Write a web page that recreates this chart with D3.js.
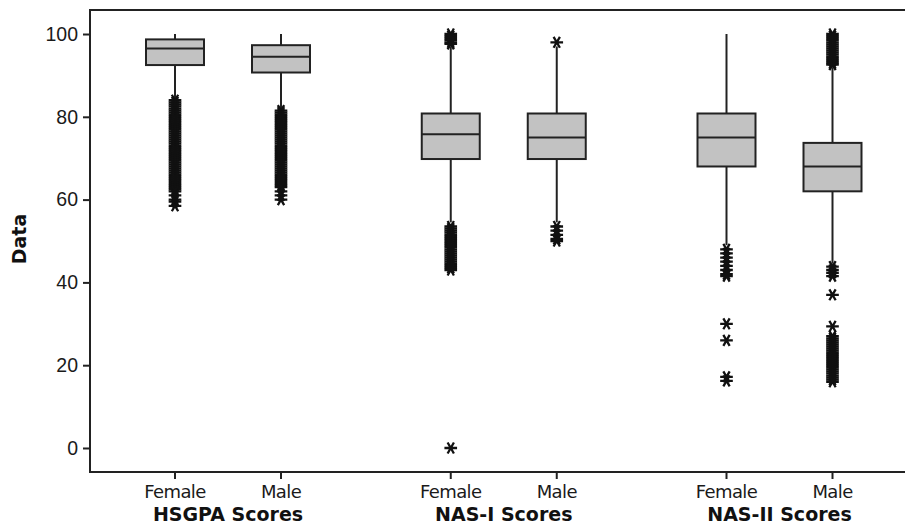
<!DOCTYPE html>
<html lang="en">
<head>
<meta charset="utf-8" />
<title>Box plots</title>
<script src="https://d3js.org/d3.v7.min.js"></script>
<style>
    body { margin: 0; background: #fff; }
    svg { display: block; font-family: "DejaVu Sans", Verdana, sans-serif; }
    .tick text { font-size: 19.5px; fill: #1a1a1a; }
    .tick line { stroke: #222; stroke-width: 2; }
</style>
</head>
<body>
<svg width="905" height="525"></svg>
<script>
    // groups and sexes, box order is group by group, Female then Male
    var groups = ["HSGPA Scores", "NAS-I Scores", "NAS-II Scores"];
    var sexes = ["Female", "Male"];
    var yTicks = [0, 20, 40, 60, 80, 100];

    // box statistics
    var whiskerLow  = [84.5, 82,   54.5, 54.5, 49,   44.5];
    var q1          = [92.5, 90.7, 69.8, 69.8, 68,   62];
    var median      = [96.5, 94.5, 75.8, 75,   75,   68];
    var q3          = [98.7, 97.3, 80.8, 80.8, 80.8, 73.7];
    var whiskerHigh = [100,  100,  97,   97,   100,  92];

    var outliers = [
        [84, 83.5, 83, 82.5, 82, 81.5, 81, 80.5, 80, 79.5, 79, 78.5, 78, 77.5, 77, 76.5, 76, 75.5, 75, 74.5, 74,
         73.5, 73, 72.5, 72, 71.5, 71, 70.5, 70, 69.5, 69, 68.5, 68, 67.5, 67, 66.5, 66, 65.5, 65, 64.5, 64,
         63.5, 63, 62.5, 62, 61, 60, 59.5, 58.5],
        [81.5, 81, 80.5, 80, 79.5, 79, 78.5, 78, 77.5, 77, 76.5, 76, 75.5, 75, 74.5, 74, 73.5, 73, 72.5, 72,
         71.5, 71, 70.5, 70, 69.5, 69, 68.5, 68, 67.5, 67, 66.5, 66, 65.5, 65, 64.5, 64, 63.5, 63, 62, 61, 60],
        [100, 99.5, 99, 98.5, 98, 97.6,
         53.5, 53, 52.5, 52, 51.5, 51, 50.5, 50, 49.5, 49, 48.5, 48, 47.5, 47, 46.5, 46, 45.5, 45, 44.5, 44,
         43.5, 43, 0],
        [98, 53.5, 52.5, 51.5, 50.5, 50],
        [48, 47, 46, 45, 44, 43, 42, 41.5, 30, 26, 17.2, 16.2],
        [100, 99.5, 99, 98.5, 98, 97.5, 97, 96.5, 96, 95.5, 95, 94.5, 94, 93.5, 93, 92.6,
         43.8, 43, 42.3, 41.5, 37, 29.4,
         27, 26.5, 26, 25.5, 25, 24.5, 24, 23.5, 23, 22.5, 22, 21.5, 21, 20.5, 20, 19.5, 19, 18.5, 18, 17.5,
         17, 16.5, 16]
    ];

    var svg = d3.select("svg");
    var frame = { left: 90, top: 10, right: 910, bottom: 472 };

    var y = d3.scaleLinear().domain([-5.8, 105.8]).range([frame.bottom, frame.top]);
    var gx = d3.scalePoint().domain(groups).range([228, 779.5]);
    var sx = d3.scalePoint().domain(sexes).range([-53, 53]);
    var boxWidth = 58;

    var boxes = d3.cross(groups, sexes).map(function (p, i) {
        return {
            group: p[0], sex: p[1], x: gx(p[0]) + sx(p[1]),
            lo: whiskerLow[i], q1: q1[i], med: median[i], q3: q3[i], hi: whiskerHigh[i],
            out: outliers[i]
        };
    });

    // frame
    svg.append("rect")
        .attr("x", frame.left).attr("y", frame.top)
        .attr("width", frame.right - frame.left).attr("height", frame.bottom - frame.top)
        .attr("fill", "none").attr("stroke", "#222").attr("stroke-width", 2);

    // y axis
    var yAxis = svg.append("g")
        .attr("transform", "translate(" + frame.left + ",0)")
        .call(d3.axisLeft(y).tickValues(yTicks).tickSize(7).tickPadding(5));
    yAxis.select(".domain").remove();

    svg.append("text")
        .attr("transform", "translate(19,239) rotate(-90)")
        .attr("text-anchor", "middle")
        .attr("dominant-baseline", "central")
        .attr("font-weight", "bold")
        .attr("font-size", 19)
        .attr("fill", "#111")
        .text("Data");

    // x ticks and labels
    var xt = svg.append("g");
    xt.selectAll("line").data(boxes).enter().append("line")
        .attr("x1", function (d) { return d.x; }).attr("x2", function (d) { return d.x; })
        .attr("y1", frame.bottom).attr("y2", frame.bottom + 7)
        .attr("stroke", "#222").attr("stroke-width", 2);
    xt.selectAll("text").data(boxes).enter().append("text")
        .attr("x", function (d) { return d.x; })
        .attr("y", 498)
        .attr("text-anchor", "middle")
        .attr("font-size", 18)
        .attr("letter-spacing", -0.6)
        .attr("fill", "#1a1a1a")
        .text(function (d) { return d.sex; });

    svg.append("g").selectAll("text").data(groups).enter().append("text")
        .attr("x", function (d) { return gx(d); })
        .attr("y", 520.5)
        .attr("text-anchor", "middle")
        .attr("font-size", 19)
        .attr("font-weight", "bold")
        .attr("fill", "#111")
        .text(function (d) { return d; });

    // boxes
    var bg = svg.append("g").selectAll("g").data(boxes).enter().append("g");

    bg.append("line")
        .attr("x1", function (d) { return d.x; }).attr("x2", function (d) { return d.x; })
        .attr("y1", function (d) { return y(d.lo); }).attr("y2", function (d) { return y(d.hi); })
        .attr("stroke", "#222").attr("stroke-width", 2);

    bg.append("rect")
        .attr("x", function (d) { return d.x - boxWidth / 2; })
        .attr("y", function (d) { return y(d.q3); })
        .attr("width", boxWidth)
        .attr("height", function (d) { return y(d.q1) - y(d.q3); })
        .attr("fill", "#c2c2c2").attr("stroke", "#222").attr("stroke-width", 2);

    bg.append("line")
        .attr("x1", function (d) { return d.x - boxWidth / 2; }).attr("x2", function (d) { return d.x + boxWidth / 2; })
        .attr("y1", function (d) { return y(d.med); }).attr("y2", function (d) { return y(d.med); })
        .attr("stroke", "#222").attr("stroke-width", 2);

    // asterisk like the one Minitab draws: a bar and a cross
    var star = {
        draw: function (ctx, size) {
            var r = Math.sqrt(size) / 2;
            var a = Math.PI / 3;
            for (var k = 0; k < 3; k++) {
                var dx = Math.cos(k * a) * r, dy = Math.sin(k * a) * r;
                ctx.moveTo(-dx, -dy);
                ctx.lineTo(dx, dy);
            }
        }
    };
    var starPath = d3.symbol().type(star).size(160)();

    bg.each(function (d) {
        d3.select(this).selectAll("path.out").data(d.out).enter().append("path")
            .attr("class", "out")
            .attr("d", starPath)
            .attr("transform", function (v) { return "translate(" + d.x + "," + y(v) + ")"; })
            .attr("fill", "none").attr("stroke", "#111").attr("stroke-width", 2.3);
    });
</script>
</body>
</html>
